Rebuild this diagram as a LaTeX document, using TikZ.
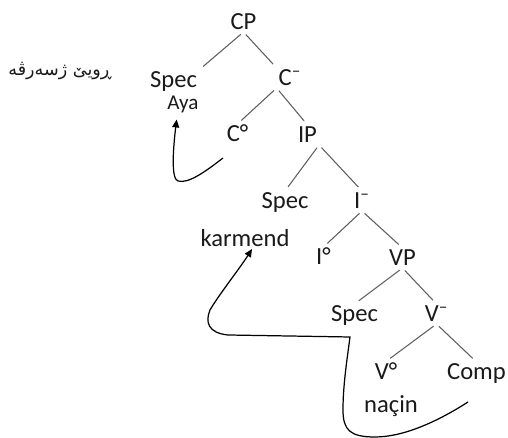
\documentclass[tikz,border=0pt]{standalone}
\usepackage{fontspec}
\setmainfont{Carlito}
\newfontfamily\kurdfont[Script=Arabic]{DejaVu Sans}
\TeXXeTstate=1
\usepackage{xcolor}
\usepackage{tikz}
\usetikzlibrary{arrows.meta}
\definecolor{ink}{HTML}{1A1A1A}
\definecolor{branchgray}{HTML}{5E5E5E}

\begin{document}
\begin{tikzpicture}[
  x=0.02cm, y=-0.02cm,
  cat/.style={font=\fontsize{14}{16}\selectfont, color=ink, inner sep=1pt, text height=9pt, text depth=0pt},
  smallcat/.style={cat, font=\fontsize{12}{14}\selectfont, text height=7.5pt},
  link/.style={draw=branchgray, line width=0.6pt, shorten <=2pt, shorten >=3pt},
  movearrow/.style={draw=black, line width=0.7pt, -{Triangle[length=4.5pt,width=4pt]}}
]
  \fill[white] (0,0) rectangle (508,438);
  \useasboundingbox (0,0) rectangle (508,438);
  \node[font=\kurdfont\fontsize{10}{12}\selectfont, color=ink] (surface) at (60,71) {\beginR ڕویێ ژسەرڤە\endR};
  \node[cat] (cp) at (243.5,22) {CP};
  \node[cat] (specc) at (173.5,80) {Spec};
  \node[cat] (cbar) at (290,78) {C\textsuperscript{–}};
  \node[smallcat] (aya) at (183,103) {Aya};
  \node[cat] (czero) at (237.5,134) {C°};
  \node[cat] (ip) at (307.5,135) {IP};
  \node[cat] (speci) at (285,201) {Spec};
  \node[cat] (ibar) at (362,201) {I\textsuperscript{–}};
  \node[cat] (karmend) at (245,239) {karmend};
  \node[cat] (izero) at (323.5,257) {I°};
  \node[cat] (vp) at (402.5,258) {VP};
  \node[cat] (specv) at (354.5,314) {Spec};
  \node[cat] (vbar) at (436.5,314) {V\textsuperscript{–}};
  \node[cat] (vzero) at (386,371.5) {V°};
  \node[cat] (comp) at (476.5,372) {Comp};
  \node[cat] (nacin) at (391,405) {naçin};
  \foreach \a/\b in {cp.south/specc.north east, cp.south/cbar.north west,
      cbar.south west/czero.north, cbar.south west/ip.north,
      ip.south east/speci.north, ip.south east/ibar.north,
      ibar.south/izero.north, ibar.south/vp.north,
      vp.south/specv.north, vp.south/vbar.north,
      vbar.south/vzero.north, vbar.south/comp.north}
    \draw[link] (\a) -- (\b);
  \coordinate (fromc) at (223,158);
  \coordinate (fromv) at (468,402);
  \draw[movearrow, shorten >=4.5pt] (fromc) .. controls (205,172) and (188,184) .. (178,181)
    .. controls (171,179) and (173,150) .. (aya.238);
  \draw[movearrow] (fromv) .. controls (440,420) and (405,437) .. (375,437)
    .. controls (350,437) and (343,430) .. (343,410)
    .. controls (343,385) and (347,360) .. (350,337)
    -- (228,335)
    .. controls (208,333) and (205,322) .. (210,310)
    .. controls (218,296) and (240,268) .. (karmend.305);
\end{tikzpicture}
\end{document}
